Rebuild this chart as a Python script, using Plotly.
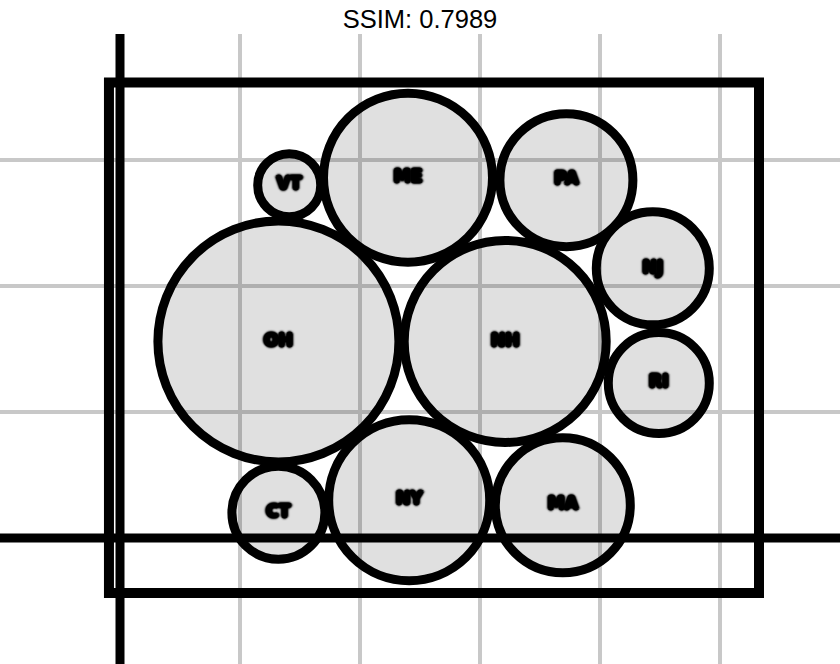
import plotly.graph_objects as go

# ---- data ----
states = ["VT", "ME", "PA", "NJ", "RI", "OH", "NH", "CT", "NY", "MA"]
cx = [1.41, 2.40, 3.72, 4.44, 4.49, 1.32, 3.21, 1.32, 2.41, 3.69]
cy = [2.80, 2.86, 2.84, 2.14, 1.23, 1.56, 1.56, 0.20, 0.30, 0.26]
diam = [63, 169, 133, 113, 101, 241, 202, 93, 161, 135]

x_ticks = [0, 1, 2, 3, 4, 5, 6]
y_ticks = [0, 1, 2, 3, 4]
box = dict(x0=-0.092, x1=5.325, y0=-0.437, y1=3.615)

fig = go.Figure()
fig.add_trace(go.Scatter(
    x=cx, y=cy, mode="markers+text", text=states,
    textposition="middle center",
    marker=dict(size=diam, sizemode="diameter", color="rgba(0,0,0,0.12)",
                opacity=1, line=dict(color="black", width=9)),
    textfont=dict(family="DejaVu Sans", size=17, color="black", weight=900,
                  shadow="0 0 3px #000, 2px 0 2px #000, -2px 0 2px #000, 0 2px 2px #000, 0 -2px 2px #000, 1px 1px 1px #000, -1px -1px 1px #000, 1px -1px 1px #000, -1px 1px 1px #000"),
    hoverinfo="skip", showlegend=False,
))

fig.add_shape(type="rect", xref="x", yref="y", **box,
              line=dict(color="black", width=10), layer="above")
fig.add_shape(type="line", xref="x", yref="paper", x0=0, x1=0, y0=0, y1=1,
              line=dict(color="black", width=9), layer="above")
fig.add_shape(type="line", xref="paper", yref="y", x0=0, x1=1, y0=0, y1=0,
              line=dict(color="black", width=9), layer="above")

fig.update_layout(
    width=840, height=664,
    margin=dict(l=0, r=0, t=34, b=0),
    paper_bgcolor="white", plot_bgcolor="white",
    title=dict(text="SSIM: 0.7989", x=0.5, xanchor="center",
               y=1 - 19.5 / 664, yanchor="middle", yref="container",
               font=dict(family="Liberation Sans, Arial", size=25.5, color="black")),
    xaxis=dict(range=[-1, 6], tickvals=x_ticks, showticklabels=False,
               showgrid=True, gridcolor="#c8c8c8", gridwidth=4, zeroline=False,
               showline=False, fixedrange=True),
    yaxis=dict(range=[-1, 4], tickvals=y_ticks, showticklabels=False,
               showgrid=True, gridcolor="#c8c8c8", gridwidth=4, zeroline=False,
               showline=False, fixedrange=True),
)

fig.write_html("out.html", config={"displayModeBar": False},
               post_script="document.body.style.margin='0';")
